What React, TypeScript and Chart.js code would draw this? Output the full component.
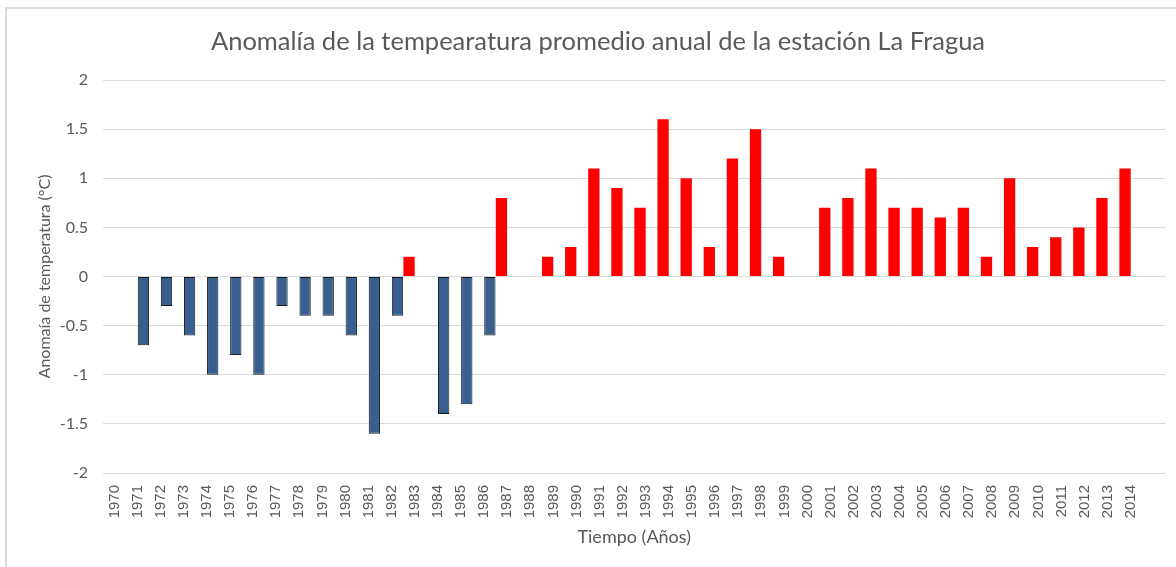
import React, { useEffect, useRef } from "react";
import { Chart, registerables } from "chart.js";

Chart.register(...registerables);

const years = [
  "1970", "1971", "1972", "1973", "1974", "1975", "1976", "1977", "1978", "1979",
  "1980", "1981", "1982", "1983", "1984", "1985", "1986", "1987", "1988", "1989",
  "1990", "1991", "1992", "1993", "1994", "1995", "1996", "1997", "1998", "1999",
  "2000", "2001", "2002", "2003", "2004", "2005", "2006", "2007", "2008", "2009",
  "2010", "2011", "2012", "2013", "2014", "",
];

const positiveAnomaly = [
  null, null, null, null, null, null, null, null, null, null,
  null, null, null, 0.2, null, null, null, 0.8, null, 0.2,
  0.3, 1.1, 0.9, 0.7, 1.6, 1.0, 0.3, 1.2, 1.5, 0.2,
  null, 0.7, 0.8, 1.1, 0.7, 0.7, 0.6, 0.7, 0.2, 1.0,
  0.3, 0.4, 0.5, 0.8, 1.1, null,
];

const negativeAnomaly = [
  null, -0.7, -0.3, -0.6, -1.0, -0.8, -1.0, -0.3, -0.4, -0.4,
  -0.6, -1.6, -0.4, null, -1.4, -1.3, -0.6, null, null, null,
  null, null, null, null, null, null, null, null, null, null,
  null, null, null, null, null, null, null, null, null, null,
  null, null, null, null, null, null,
];

const yTicks = [-2, -1.5, -1, -0.5, 0, 0.5, 1, 1.5, 2];

const TITLE = "Anomalía de la tempearatura promedio anual de la estación La Fragua";
const FONT = "Lato, 'Open Sans', sans-serif";
const TICK_FONT = "'Liberation Sans', Arial, sans-serif";
const GRAY = "#595959";

const titlePlugin = {
  id: "frameTitle",
  afterDraw(chart: any) {
    const ctx = chart.ctx;
    ctx.save();
    ctx.font = `normal 25.5px ${FONT}`;
    ctx.fillStyle = GRAY;
    ctx.textAlign = "center";
    ctx.textBaseline = "middle";
    ctx.fillText(TITLE, 598, 42);
    ctx.restore();
  },
};

export default function App() {
  const ref = useRef<HTMLCanvasElement | null>(null);

  useEffect(() => {
    if (!ref.current) return;
    const chart = new Chart(ref.current, {
      type: "bar",
      data: {
        labels: years,
        datasets: [
          {
            label: "Positiva",
            data: positiveAnomaly,
            backgroundColor: "#FF0000",
            borderWidth: 0,
          },
          {
            label: "Negativa",
            data: negativeAnomaly,
            backgroundColor: "#37608F",
            borderColor: "#1A1A1A",
            borderWidth: 1,
            borderSkipped: false,
          },
        ],
      },
      plugins: [titlePlugin],
      options: {
        responsive: false,
        animation: false,
        devicePixelRatio: 1,
        layout: { padding: { left: 0, right: 7, top: 80, bottom: 0 } },
        datasets: {
          bar: { categoryPercentage: 1, barPercentage: 0.98 },
        },
        plugins: {
          legend: { display: false },
          tooltip: { enabled: false },
          title: { display: false },
        },
        scales: {
          x: {
            grid: { display: false },
            border: { display: false },
            ticks: {
              color: GRAY,
              font: { family: TICK_FONT, size: 15 },
              minRotation: 90,
              maxRotation: 90,
              autoSkip: false,
              padding: 4,
            },
            title: {
              display: true,
              text: "Tiempo (Años)",
              color: GRAY,
              font: { family: FONT, size: 18 },
              padding: { top: 0, bottom: 19 },
            },
            afterFit: (scale: any) => {
              scale.height = 94;
            },
          },
          y: {
            min: -2,
            max: 2,
            afterBuildTicks: (scale: any) => {
              scale.ticks = yTicks.map((v) => ({ value: v }));
            },
            grid: { color: "#D9D9D9", lineWidth: 1, drawTicks: false },
            border: { display: false },
            ticks: {
              color: GRAY,
              font: { family: FONT, size: 16 },
              padding: 15,
              callback: (v: any) => String(v),
            },
            title: {
              display: true,
              text: "Anomaía de temperatura (°C)",
              color: GRAY,
              font: { family: FONT, size: 16 },
              padding: { top: 35, bottom: 0 },
            },
            afterFit: (scale: any) => {
              scale.width = 103;
            },
          },
        },
      },
    });
    return () => chart.destroy();
  }, []);

  return (
    <div style={{ position: "absolute", left: 0, top: 0, width: 1176, height: 567, overflow: "hidden", background: "#fff" }}>
      <div
        style={{
          position: "absolute",
          left: 5,
          top: 7,
          width: 1200,
          height: 600,
          border: "2px solid #D9D9D9",
          boxSizing: "border-box",
        }}
      />
      <canvas
        ref={ref}
        width={1176}
        height={567}
        style={{ position: "absolute", left: 0, top: 0, display: "block" }}
      />
    </div>
  );
}
